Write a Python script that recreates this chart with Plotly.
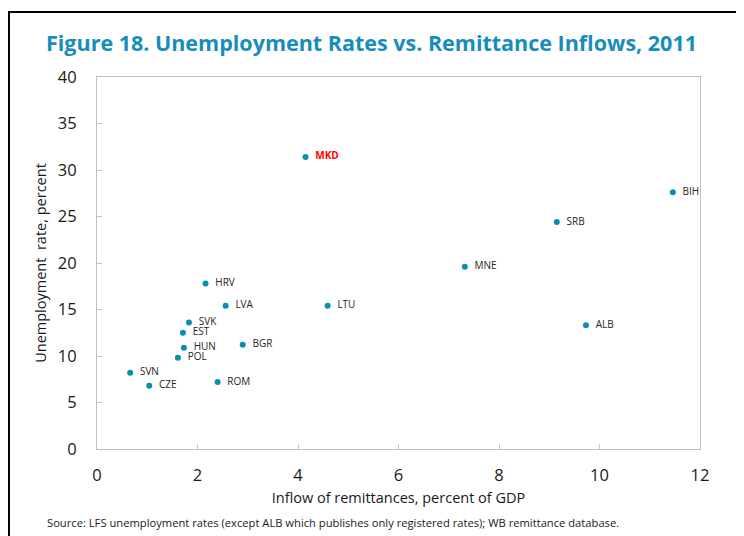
import plotly.graph_objects as go

countries = ["MKD", "BIH", "SRB", "MNE", "LTU", "ALB", "HRV", "LVA", "SVK", "EST",
             "HUN", "BGR", "POL", "SVN", "CZE", "ROM"]
remittances = [4.15, 11.46, 9.15, 7.32, 4.59, 9.73, 2.16, 2.56, 1.83, 1.71,
               1.73, 2.90, 1.61, 0.66, 1.04, 2.40]
unemployment = [31.4, 27.6, 24.4, 19.6, 15.4, 13.3, 17.8, 15.4, 13.6, 12.5,
                10.9, 11.2, 9.8, 8.2, 6.8, 7.2]
highlight = ["MKD"]

x_ticks = [0, 2, 4, 6, 8, 10, 12]
y_ticks = [0, 5, 10, 15, 20, 25, 30, 35, 40]

labels = [("<b>%s</b>" % c) if c in highlight else c for c in countries]
label_colors = ["#ff0000" if c in highlight else "#262626" for c in countries]

# page has an 8px body margin; figure is sized to fill the rest of the window
OFF = 8
W, H = 744 - OFF, 536 - OFF
L, T = 97 - OFF, 77 - OFF
R = W - (700 - OFF)
B = H - (449 - OFF)
pw, ph = W - L - R, H - T - B

fig = go.Figure()
# invisible larger markers push the labels away from the dots
fig.add_trace(go.Scatter(
    x=remittances, y=unemployment, mode="markers+text",
    text=labels, textposition="middle right",
    textfont=dict(family="Open Sans", size=10, color=label_colors),
    marker=dict(color="rgba(0,0,0,0)", size=14),
    cliponaxis=False, hoverinfo="skip", showlegend=False,
))
fig.add_trace(go.Scatter(
    x=remittances, y=unemployment, mode="markers",
    marker=dict(color="#0a8fb3", size=6),
    cliponaxis=False, hoverinfo="skip", showlegend=False,
))

axis_common = dict(
    showgrid=False, zeroline=False, showline=True, linecolor="#c0c0c0", linewidth=1,
    mirror=True, ticks="inside", ticklen=5, tickcolor="#c8c8c8",
    tickfont=dict(family="Open Sans", size=16.5, color="#1a1a1a"),
)
fig.update_xaxes(range=[0, 12], tickvals=x_ticks, ticklabelstandoff=11,
                 title=dict(text="Inflow of remittances, percent of GDP",
                            font=dict(family="Open Sans", size=14.5, color="#1a1a1a"),
                            standoff=8),
                 **axis_common)
fig.update_yaxes(range=[0, 40], tickvals=y_ticks, ticklabelstandoff=16,
                 title=dict(text="Unemployment  rate, percent",
                            font=dict(family="Open Sans", size=14.5, color="#1a1a1a"),
                            standoff=7),
                 **axis_common)

def px_x(p):
    return (p - OFF - L) / pw

def px_y(p):
    return (H - B - (p - OFF)) / ph

fig.add_shape(type="rect", xref="paper", yref="paper",
              x0=px_x(OFF + 1), x1=px_x(770), y0=px_y(580), y1=px_y(12),
              line=dict(color="black", width=2), fillcolor="rgba(0,0,0,0)", layer="above")

fig.add_annotation(xref="paper", yref="paper", x=px_x(44), y=px_y(26),
                   xanchor="left", yanchor="top", showarrow=False,
                   text="<b>Figure 18. Unemployment Rates vs. Remittance Inflows, 2011</b>",
                   font=dict(family="Open Sans", size=21.5, color="#168dbd"))
fig.add_annotation(xref="paper", yref="paper", x=px_x(45), y=px_y(522),
                   xanchor="left", yanchor="middle", showarrow=False,
                   text="Source: LFS unemployment rates (except ALB which publishes only registered rates); WB remittance database.",
                   font=dict(family="Open Sans", size=11.2, color="#1a1a1a"))

fig.update_layout(
    width=W, height=H, margin=dict(l=L, r=R, t=T, b=B),
    paper_bgcolor="white", plot_bgcolor="white",
)
fig.write_html("out.html")
